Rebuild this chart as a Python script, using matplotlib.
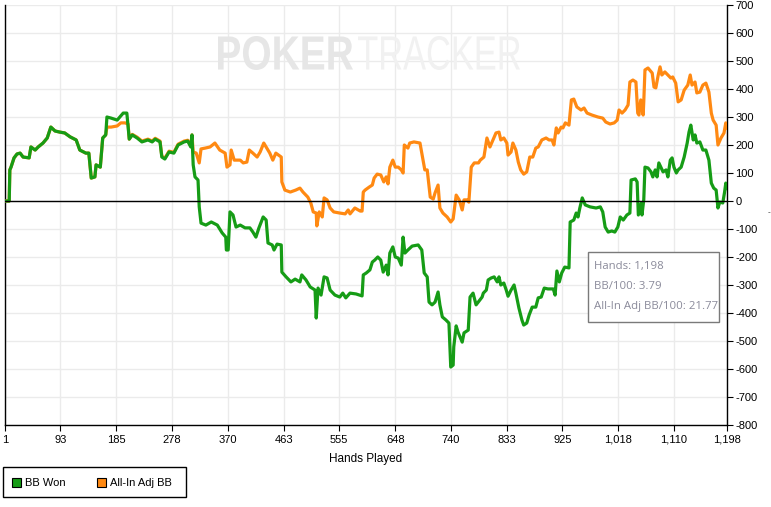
import matplotlib
matplotlib.use("Agg")
import matplotlib.pyplot as plt
from matplotlib.patches import Rectangle, PathPatch
from matplotlib.ticker import FuncFormatter, MultipleLocator
from matplotlib.textpath import TextPath
from matplotlib.font_manager import FontProperties
from matplotlib.transforms import Affine2D

# ---------------- data ----------------
green_hands = [1, 8, 9, 11, 16, 21, 26, 31, 41, 44, 51, 56, 64, 71, 77, 84, 92, 100, 109, 119,
               125, 135, 140, 144, 150, 152, 159, 163, 168, 170, 177, 187, 197, 203, 207, 212, 220,
               228, 238, 245, 250, 258, 261, 266, 273, 281, 288, 298, 304, 309, 311, 313, 316, 321,
               323, 326, 334, 343, 353, 361, 367, 368, 371, 374, 379, 384, 391, 399, 407, 412, 417,
               422, 429, 434, 437, 444, 447, 452, 459, 460, 467, 475, 482, 490, 493, 500, 507, 515,
               517, 520, 525, 530, 535, 540, 548, 556, 561, 566, 573, 583, 593, 595, 600, 606, 610,
               614, 619, 624, 628, 633, 636, 639, 644, 648, 653, 658, 661, 664, 669, 676, 686, 692,
               696, 701, 704, 709, 714, 719, 722, 726, 732, 737, 740, 744, 745, 749, 752, 759, 762,
               769, 772, 777, 782, 788, 792, 794, 799, 802, 807, 812, 817, 820, 823, 828, 832, 835,
               840, 845, 848, 853, 858, 861, 866, 870, 875, 881, 885, 890, 895, 901, 910, 913, 916,
               920, 924, 929, 936, 938, 944, 948, 951, 954, 958, 963, 971, 981, 988, 992, 996, 1001,
               1007, 1012, 1017, 1021, 1026, 1032, 1037, 1039, 1046, 1049, 1051, 1056, 1057, 1060,
               1062, 1067, 1072, 1075, 1079, 1082, 1085, 1089, 1092, 1097, 1100, 1104, 1107, 1110,
               1114, 1117, 1122, 1127, 1132, 1135, 1138, 1142, 1145, 1148, 1153, 1158, 1163, 1168,
               1172, 1176, 1180, 1183, 1186, 1191, 1194, 1196, 1198]
green_bb = [0, 0, 111, 121, 154, 168, 171, 157, 154, 193, 182, 193, 207, 225, 264, 250, 246, 243,
            229, 218, 182, 171, 171, 82, 86, 129, 121, 225, 236, 300, 296, 289, 314, 314, 221, 236,
            225, 211, 218, 211, 221, 211, 157, 150, 175, 171, 200, 211, 214, 193, 236, 129, 86, 75,
            -21, -79, -86, -75, -86, -114, -129, -175, -175, -39, -50, -93, -86, -96, -96, -111,
            -129, -96, -57, -68, -150, -157, -175, -154, -157, -254, -271, -289, -279, -289, -264,
            -282, -307, -318, -418, -311, -336, -271, -275, -318, -336, -343, -329, -346, -329,
            -332, -339, -264, -257, -246, -218, -211, -200, -211, -254, -229, -264, -186, -164,
            -200, -204, -229, -129, -186, -175, -161, -157, -175, -257, -271, -361, -371, -361,
            -325, -371, -414, -425, -436, -593, -586, -521, -446, -468, -504, -471, -461, -343,
            -329, -371, -354, -343, -329, -318, -282, -275, -271, -289, -271, -300, -293, -318,
            -340, -318, -300, -329, -382, -425, -443, -436, -407, -379, -379, -346, -343, -311,
            -314, -314, -336, -250, -289, -257, -236, -239, -75, -68, -43, -57, -25, 11, -14, -21,
            -25, -21, -39, -93, -111, -107, -111, -93, -57, -68, -50, -43, 75, 79, 68, -50, -7,
            -50, 4, 121, 118, 104, 86, 111, 86, 136, 118, 104, 111, 86, 146, 154, 121, 100, 111,
            121, 157, 207, 246, 271, 218, 236, 207, 211, 182, 182, 146, 64, 46, 39, -25, -4, -7,
            32, 64, 45]

orange_hands = [1, 8, 9, 11, 16, 21, 26, 31, 41, 44, 51, 56, 64, 71, 77, 84, 92, 100, 109, 119,
                125, 135, 140, 144, 150, 152, 159, 163, 168, 170, 177, 187, 193, 200, 205, 207, 212,
                220, 228, 238, 245, 250, 258, 261, 266, 273, 281, 288, 298, 304, 309, 311, 313, 318,
                323, 326, 333, 341, 349, 357, 366, 369, 374, 376, 381, 391, 396, 402, 406, 412, 419,
                424, 430, 435, 440, 445, 450, 459, 460, 465, 474, 483, 490, 495, 503, 508, 512, 517,
                518, 522, 527, 530, 535, 540, 546, 556, 565, 570, 573, 581, 590, 593, 595, 598, 605,
                610, 613, 618, 624, 629, 633, 636, 639, 644, 648, 653, 658, 661, 663, 669, 672, 679,
                689, 692, 697, 701, 706, 711, 714, 719, 722, 727, 734, 740, 744, 749, 754, 759, 762,
                767, 770, 774, 779, 786, 789, 795, 800, 805, 810, 815, 820, 823, 828, 833, 835, 840,
                843, 848, 852, 856, 861, 866, 871, 876, 881, 885, 891, 898, 903, 908, 911, 915, 918,
                923, 926, 930, 936, 940, 944, 949, 956, 961, 966, 974, 984, 992, 997, 1004, 1011,
                1016, 1019, 1024, 1029, 1034, 1037, 1042, 1047, 1050, 1052, 1055, 1059, 1060, 1062,
                1067, 1074, 1077, 1080, 1084, 1087, 1090, 1095, 1100, 1105, 1108, 1113, 1117, 1122,
                1127, 1133, 1137, 1140, 1145, 1148, 1153, 1158, 1163, 1168, 1172, 1175, 1180, 1183,
                1188, 1193, 1196, 1198]
orange_bb = [0, 0, 111, 121, 154, 168, 171, 157, 154, 193, 182, 193, 207, 225, 264, 250, 246, 243,
             229, 218, 182, 171, 171, 82, 86, 129, 121, 225, 236, 264, 264, 268, 279, 279, 275, 221,
             238, 228, 214, 221, 214, 224, 214, 160, 153, 178, 174, 203, 214, 217, 196, 236, 175,
             171, 136, 186, 189, 193, 207, 182, 171, 121, 129, 182, 146, 146, 136, 139, 182, 171,
             157, 175, 207, 189, 171, 146, 171, 157, 68, 39, 32, 39, 46, 32, 14, -7, -39, -43, -89,
             -39, -57, 11, 4, -25, -39, -43, -46, -32, -46, -25, -36, -36, 32, 39, 50, 57, 82, 96,
             93, 68, 86, 61, 121, 146, 121, 121, 111, 100, 200, 189, 207, 211, 207, 171, 111, 111,
             14, 7, 29, 57, -25, -43, -57, -75, -64, 21, 4, -32, 4, 4, -4, 121, 136, 136, 146, 157,
             225, 193, 218, 243, 246, 218, 225, 207, 164, 175, 207, 182, 139, 111, 96, 104, 157,
             157, 189, 193, 218, 225, 218, 218, 200, 261, 243, 264, 261, 279, 271, 361, 364, 336,
             325, 332, 314, 307, 300, 296, 282, 275, 279, 289, 325, 314, 325, 343, 425, 432, 425,
             314, 307, 361, 307, 354, 468, 475, 457, 407, 404, 450, 479, 450, 461, 450, 439, 443,
             421, 354, 361, 396, 414, 450, 414, 425, 386, 389, 414, 421, 389, 314, 289, 271, 200,
             225, 243, 279, 261]

x_ticks = [1, 93, 185, 278, 370, 463, 555, 648, 740, 833, 925, 1018, 1110, 1198]
series_names = ["BB Won", "All-In Adj BB"]
info_lines = [("Hands: ", "1,198"), ("BB/100: ", "3.79"), ("All-In Adj BB/100: ", "21.77")]

GREEN = "#169c16"
ORANGE = "#ff8912"
FONT = ["Liberation Sans", "DejaVu Sans"]

plt.rcParams["font.family"] = FONT

W, H = 771, 507
fig = plt.figure(figsize=(W / 100, H / 100), dpi=100)
ax = fig.add_axes([5 / W, 1 - 425 / H, 722 / W, 420 / H])

ax.plot(orange_hands, orange_bb, color=ORANGE, lw=2.3, zorder=3, solid_joinstyle="round")
ax.plot(green_hands, green_bb, color=GREEN, lw=2.3, zorder=4, solid_joinstyle="round")
ax.axhline(0, color="black", lw=1.0, zorder=5)

ax.set_xlim(1, 1198)
ax.set_ylim(-800, 700)
ax.set_xticks(x_ticks)
ax.xaxis.set_major_formatter(FuncFormatter(lambda v, p: f"{int(round(v)):,}"))
ax.yaxis.set_major_locator(MultipleLocator(100))
ax.yaxis.set_major_formatter(FuncFormatter(lambda v, p: f"{int(round(v))}"))
ax.yaxis.tick_right()
ax.tick_params(axis="both", labelsize=8, colors="black", length=4, width=0.8)
ax.tick_params(axis="y", pad=2)
ax.tick_params(axis="x", pad=3)
ax.grid(True, color="#ebebeb", lw=1.0, zorder=0)
ax.set_axisbelow(True)
ax.spines["top"].set_visible(False)
for s in ["left", "right", "bottom"]:
    ax.spines[s].set_color("black")
    ax.spines[s].set_linewidth(1.0)

ax.set_xlabel("Hands Played", fontsize=8.5, labelpad=6)


# watermark (text stretched into the reference box, pixel coords)
def stretched_text(s, weight, x0, x1, ytop, ybot, color):
    tp = TextPath((0, 0), s, size=100, prop=FontProperties(family="Liberation Sans", weight=weight))
    bb = tp.get_extents()
    tr = (Affine2D().translate(-bb.x0, -bb.y0)
          .scale((x1 - x0) / bb.width, (ybot - ytop) / bb.height)
          .translate(x0, H - ybot))
    patch = PathPatch(tp, transform=tr, facecolor=color, edgecolor="none", zorder=1)
    fig.add_artist(patch)


stretched_text("POKER", "bold", 218, 353, 36, 70, "#e6e6e6")
stretched_text("TRACKER", "normal", 358, 520, 36, 70, "#f1f1f1")

# info box
box = Rectangle((588 / W, 1 - 322 / H), 131 / W, 70 / H, transform=fig.transFigure,
                facecolor="white", edgecolor="#7a7a7a", lw=1.0, zorder=10)
fig.add_artist(box)
for i, (lab, val) in enumerate(info_lines):
    fig.text(594 / W, 1 - (266 + i * 20.5) / H, lab + val, fontsize=8.2, color="#8a8a9a",
             ha="left", va="center", zorder=11, family=["Open Sans", "DejaVu Sans"])

# stray axis-title mark at the right edge
fig.text(769 / W, 1 - 213 / H, "-", fontsize=6, color="#333333", ha="center", va="center")

# legend
lbox = Rectangle((3 / W, 1 - 497 / H), 183 / W, 30 / H, transform=fig.transFigure,
                 facecolor="white", edgecolor="black", lw=1.0)
fig.add_artist(lbox)
for i, (name, col) in enumerate(zip(series_names, [GREEN, ORANGE])):
    x0 = [12, 97][i]
    sq = Rectangle((x0 / W, 1 - 487 / H), 9 / W, 9 / H, transform=fig.transFigure,
                   facecolor=col, edgecolor="black", lw=0.8)
    fig.add_artist(sq)
    fig.text((x0 + 13) / W, 1 - 482.5 / H, name, fontsize=8, color="black",
             ha="left", va="center")

fig.savefig("out.png", dpi=100)
